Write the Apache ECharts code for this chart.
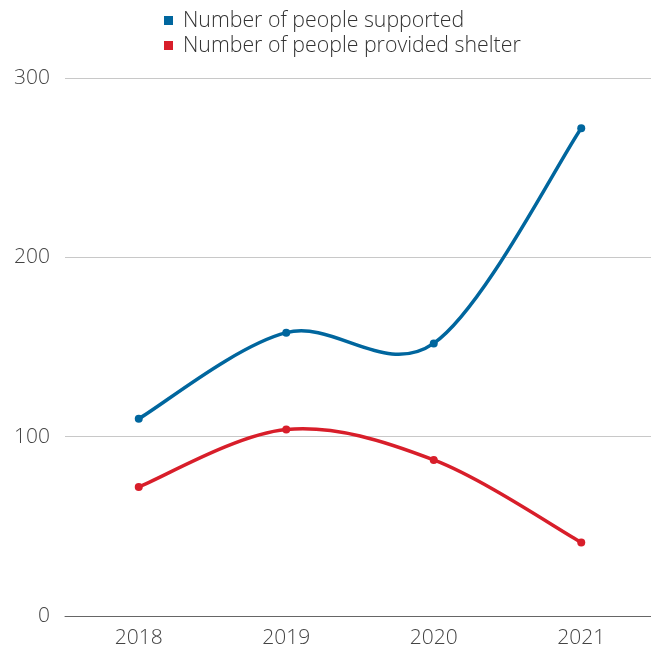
<!DOCTYPE html>
<html>
<head>
<meta charset="utf-8">
<script src="https://cdn.jsdelivr.net/npm/echarts@6/dist/echarts.min.js"></script>
<style>
  html, body { margin: 0; padding: 0; background: #fff; }
  #chart { width: 651px; height: 652px; }
</style>
</head>
<body>
<div id="chart"></div>
<script>
// Yearly figures
const years = ['2018', '2019', '2020', '2021'];
const peopleSupported = [110, 158, 152, 272];
const peopleSheltered = [72, 104, 87, 41];
const yTicks = { min: 0, max: 300, interval: 100 };

const FONT = '"Open Sans", "Noto Sans", sans-serif';
const BLUE = '#00669e';
const RED = '#d81e2a';

// Year index i sits in the middle of its band; the last band runs past the right edge.
const xIndex = years.map((_, i) => i);

// Smooth curve through the points: cubic Bezier segments whose control
// points follow the neighbouring points (Catmull-Rom, tension 1/6).
function splineSeries(values, color) {
  const n = values.length;
  return {
    type: 'custom',
    silent: true,
    z: 1,
    data: values.map((v, i) => [xIndex[i], v]),
    renderItem: function (params, api) {
      const i = params.dataIndex;
      if (i >= n - 1) return null;
      const p = k => {
        const j = Math.max(0, Math.min(n - 1, k));
        return api.coord([xIndex[j], values[j]]);
      };
      const p0 = p(i - 1), p1 = p(i), p2 = p(i + 1), p3 = p(i + 2);
      return {
        type: 'bezierCurve',
        shape: {
          x1: p1[0], y1: p1[1],
          x2: p2[0], y2: p2[1],
          cpx1: p1[0] + (p2[0] - p0[0]) / 6, cpy1: p1[1] + (p2[1] - p0[1]) / 6,
          cpx2: p2[0] - (p3[0] - p1[0]) / 6, cpy2: p2[1] - (p3[1] - p1[1]) / 6
        },
        style: { stroke: color, lineWidth: 3.5, fill: null, lineCap: 'round' }
      };
    }
  };
}

function pointSeries(name, values, color) {
  return {
    name: name,
    type: 'line',
    data: values.map((v, i) => [xIndex[i], v]),
    symbol: 'circle',
    symbolSize: 8,
    z: 3,
    itemStyle: { color: color },
    lineStyle: { width: 0, opacity: 0 }
  };
}

const chart = echarts.init(document.getElementById('chart'));
chart.setOption({
  animation: false,
  textStyle: { fontFamily: FONT },
  legend: {
    data: ['Number of people supported', 'Number of people provided shelter'],
    orient: 'vertical',
    left: 159,
    top: 5,
    itemWidth: 9,
    itemHeight: 9,
    itemGap: 4,
    icon: 'rect',
    textStyle: { fontSize: 21.3, fontWeight: 300, color: '#333', fontFamily: FONT, padding: [0, 0, 0, 5] }
  },
  grid: { left: 65, right: 0, top: 78, bottom: 36 },
  xAxis: {
    type: 'value',
    min: -0.5,
    max: 3.473,
    axisLine: { show: true, onZero: false, lineStyle: { color: '#666', width: 1 } },
    axisTick: { show: false },
    splitLine: { show: false },
    axisLabel: {
      customValues: xIndex,
      formatter: v => years[Math.round(v)] || '',
      fontSize: 21, fontWeight: 300, color: '#444', margin: 12, fontFamily: FONT
    }
  },
  yAxis: {
    type: 'value',
    min: yTicks.min,
    max: yTicks.max,
    interval: yTicks.interval,
    axisLine: { show: false },
    axisTick: { show: false },
    splitLine: { lineStyle: { color: '#c8c8c8', width: 1 } },
    axisLabel: { fontSize: 21, fontWeight: 300, color: '#444', margin: 15, fontFamily: FONT }
  },
  series: [
    splineSeries(peopleSupported, BLUE),
    splineSeries(peopleSheltered, RED),
    pointSeries('Number of people supported', peopleSupported, BLUE),
    pointSeries('Number of people provided shelter', peopleSheltered, RED)
  ]
});
</script>
</body>
</html>
